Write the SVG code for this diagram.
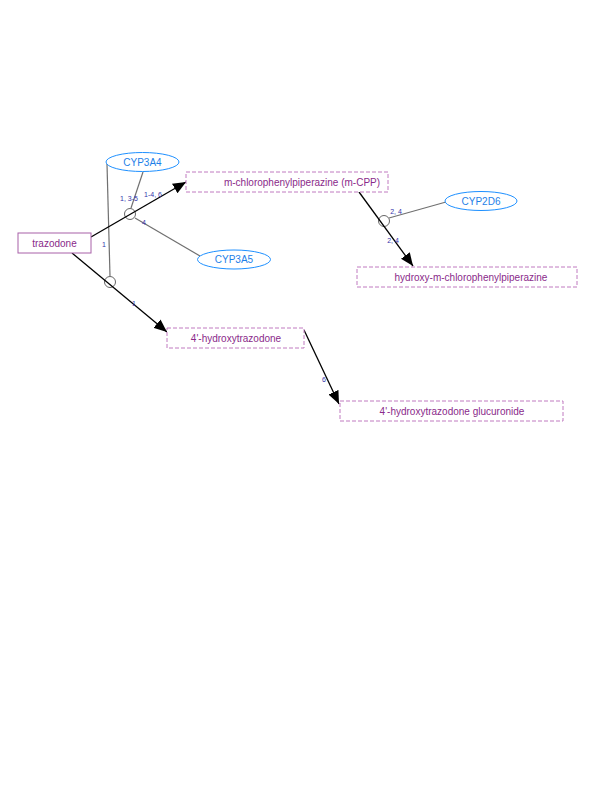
<svg xmlns="http://www.w3.org/2000/svg" width="612" height="792" viewBox="0 0 612 792">
<defs>
<style>
.node text{font-family:"Liberation Sans",Arial,sans-serif;font-size:10px;text-anchor:middle;dominant-baseline:central}
.met rect{fill:#fff;stroke:#c07ac0;stroke-width:1;stroke-dasharray:4,2}
.met text{fill:#8a2a8a}
.src rect{fill:#fff;stroke:#a860a8;stroke-width:1}
.enz ellipse{fill:#fff;stroke:#1e90ff;stroke-width:1}
.enz text{fill:#1e7fe8}
.rxn{stroke:#000;stroke-width:1.3;fill:none}
.cat{stroke:#707070;stroke-width:1.2;fill:none}
.hub{fill:none;stroke:#666;stroke-width:1}
.lbl{font-family:"Liberation Sans",Arial,sans-serif;font-size:7px;fill:#3333aa;text-anchor:middle;dominant-baseline:central}
</style>
<marker id="ah" viewBox="0 0 13 11" refX="13" refY="5.5" markerWidth="13" markerHeight="11" markerUnits="userSpaceOnUse" orient="auto">
<path d="M0,0 L13,5.5 L0,11 z" fill="#000"/>
</marker>
</defs>
<g id="connectors">
<circle class="hub" cx="130" cy="214" r="5.5"/>
<circle class="hub" cx="110" cy="282" r="5.5"/>
<circle class="hub" cx="384" cy="221" r="5.5"/>
<line class="cat" x1="143" y1="172" x2="131" y2="208"/>
<line class="cat" x1="135" y1="218" x2="200" y2="256"/>
<line class="cat" x1="107" y1="164" x2="110" y2="276"/>
<line class="cat" x1="389" y1="218" x2="446" y2="202"/>
<line class="rxn" x1="91" y1="237" x2="186" y2="182" marker-end="url(#ah)"/>
<line class="rxn" x1="72" y1="253" x2="167" y2="332" marker-end="url(#ah)"/>
<line class="rxn" x1="359" y1="192" x2="413" y2="266" marker-end="url(#ah)"/>
<line class="rxn" x1="304" y1="330" x2="339" y2="404" marker-end="url(#ah)"/>
<text class="lbl" x="129" y="198">1, 3-5</text>
<text class="lbl" x="153" y="194">1-4, 6</text>
<text class="lbl" x="144" y="222">4</text>
<text class="lbl" x="104" y="244">1</text>
<text class="lbl" x="134" y="303">1</text>
<text class="lbl" x="396" y="211">2, 4</text>
<text class="lbl" x="393" y="240">2, 4</text>
<text class="lbl" x="324" y="379">6</text>
</g>
<g id="trazodone" class="node src"><rect x="18" y="233" width="73" height="20"/><text x="54.5" y="243" fill="#8a2a8a">trazodone</text></g>
<g id="mcpp" class="node met"><rect x="186" y="172" width="202" height="20"/><text x="302" y="182">m-chlorophenylpiperazine (m-CPP)</text></g>
<g id="hydroxy-mcpp" class="node met"><rect x="357" y="267" width="220" height="20"/><text x="471" y="277">hydroxy-m-chlorophenylpiperazine</text></g>
<g id="oh-trazodone" class="node met"><rect x="167" y="328" width="137" height="20"/><text x="236" y="338">4'-hydroxytrazodone</text></g>
<g id="oh-trazodone-gluc" class="node met"><rect x="340" y="401" width="223" height="20"/><text x="452" y="411">4'-hydroxytrazodone glucuronide</text></g>
<g id="cyp3a4" class="node enz"><ellipse cx="142.5" cy="162" rx="36.5" ry="9.5"/><text x="142.5" y="162">CYP3A4</text></g>
<g id="cyp3a5" class="node enz"><ellipse cx="234" cy="259.5" rx="36.5" ry="9.5"/><text x="234" y="259.5">CYP3A5</text></g>
<g id="cyp2d6" class="node enz"><ellipse cx="481" cy="201" rx="36" ry="9.5"/><text x="481" y="201">CYP2D6</text></g>
</svg>
